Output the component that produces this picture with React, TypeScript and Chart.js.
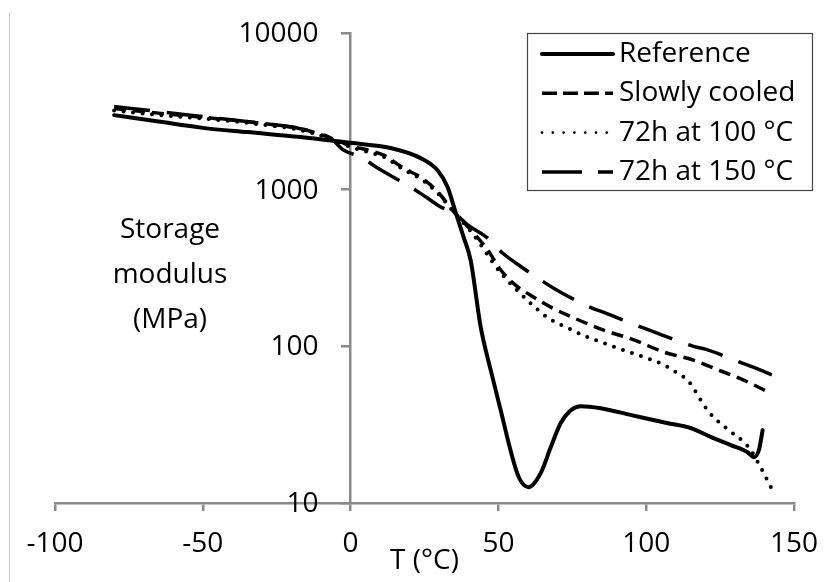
import React, { useEffect, useRef } from 'react';
import { Chart, registerables } from 'chart.js';

Chart.register(...registerables);

// ---- Data ----
const refT = [-80, -65, -50, -35, -17, 0, 13.5, 23.7, 29.4, 32.8, 35.5, 38.2, 40.6, 44.0, 47.4, 50.8, 54.1, 56.9, 60.2, 64.3, 67.7, 71.1, 74.5, 77.8, 84.6, 95, 107, 115, 122, 128.6, 134.3, 136.4, 138.1, 139.4];
const refE = [2990, 2720, 2480, 2330, 2170, 1990, 1845, 1590, 1330, 1040, 720, 500, 355, 133, 70.5, 39, 21.7, 14.6, 12.6, 15.5, 22.7, 32.4, 39.1, 41.5, 40.3, 36.4, 32.4, 30.1, 26.3, 23.4, 21.1, 19.6, 21.7, 29.2];

const slowT = [-80, -65, -46, -30, -17, -5, 0, 5.8, 11.2, 18, 23.7, 29, 35, 41.6, 46.4, 50.8, 56.2, 60.9, 67.7, 75.8, 85.6, 95.8, 105.9, 115.7, 122.8, 133, 142.1];
const slowE = [3300, 3080, 2850, 2650, 2450, 2080, 1900, 1790, 1660, 1370, 1200, 990, 720, 529, 411, 307, 242, 212, 178, 151, 127, 110, 92, 82, 72.6, 60.8, 50.2];

const h100T = [-80, -65, -46, -30, -17, -5, 0, 5.8, 11.2, 18, 23.7, 29, 35, 40, 44, 48, 51.4, 56.9, 61.6, 67, 73.4, 79.5, 85.6, 92.4, 99.1, 105.5, 110.6, 114, 116, 119.5, 122.8, 127.9, 133, 135.4, 138.7, 141.5, 143.1];
const h100E = [3200, 3000, 2800, 2600, 2400, 2050, 1870, 1740, 1620, 1340, 1170, 970, 715, 560, 445, 345, 285, 222, 183, 151, 131, 116, 105, 94.5, 85.4, 77, 67.4, 60.8, 54.1, 42.2, 35.3, 29.2, 24.5, 21.7, 16.9, 13.4, 11.6];

const h150T = [-80, -65, -46, -30, -17, -6.8, -2.4, 3.4, 9, 14.5, 20.3, 25.5, 30.5, 35.2, 39.6, 46.4, 51.4, 57.8, 64.3, 69.7, 80.9, 86.3, 98.1, 103.9, 116, 120, 131.9, 138.7, 144.5];
const h150E = [3400, 3150, 2870, 2650, 2450, 2133, 1791, 1616, 1380, 1202, 1040, 897, 775, 706, 595, 491, 394, 321, 265, 229, 178, 163, 133, 121, 100, 96, 79, 70.5, 63.5];

const seriesLabels = ['Reference', 'Slowly cooled', '72h at 100 °C', '72h at 150 °C'];
const xTicks = [-100, -50, 0, 50, 100, 150];
const yTicks = [10, 100, 1000, 10000];
const xTitle = 'T (°C)';
const yTitleLines = ['Storage', 'modulus', '(MPa)'];

const FONT_FAMILY = '"Open Sans", Lato, sans-serif';
const FONT_SIZE = 28;
const AXIS_COLOR = '#8a8a8a';

const lineWidths = [4, 3.5, 4, 3.5];
const lineDashes = [[], [12, 7], [0, 9.5], [36, 17]];
const lineCaps = ['round', 'butt', 'round', 'butt'];
const legendDashes = [[], [15, 6], [0, 10.8], [40, 16]];
const legendWidths = [4, 3.5, 2.8, 3.5];

const toPts = (xs: number[], ys: number[]) => xs.map((x, i) => ({ x, y: ys[i] }));

const overlayPlugin = {
  id: 'overlayTexts',
  afterDraw(chart: any) {
    const ctx = chart.ctx as CanvasRenderingContext2D;
    const xs = chart.scales.x;
    const ys = chart.scales.y;
    ctx.save();
    ctx.font = `${FONT_SIZE}px ${FONT_FAMILY}`;
    ctx.fillStyle = '#000';

    // y tick labels, left of the axis that crosses at x = 0
    ctx.textAlign = 'right';
    ctx.textBaseline = 'middle';
    const axisX = xs.getPixelForValue(0);
    yTicks.forEach((v) => ctx.fillText(String(v), axisX - 32, ys.getPixelForValue(v) + 1));

    // y title (horizontal, three lines)
    ctx.textAlign = 'center';
    yTitleLines.forEach((t, i) => ctx.fillText(t, 170, 230 + i * 45));

    // legend box
    ctx.strokeStyle = '#444';
    ctx.lineWidth = 1.2;
    ctx.strokeRect(527.5, 33.5, 285, 157);
    chart.data.datasets.forEach((ds: any, i: number) => {
      const y = 54 + i * 39.3;
      ctx.save();
      ctx.strokeStyle = '#000';
      ctx.lineWidth = legendWidths[i];
      ctx.setLineDash(legendDashes[i]);
      ctx.lineCap = lineCaps[i] as CanvasLineCap;
      ctx.beginPath();
      ctx.moveTo(542, y);
      ctx.lineTo(613, y);
      ctx.stroke();
      ctx.restore();
      ctx.textAlign = 'left';
      ctx.fillText(ds.label, 619, y);
    });
    ctx.restore();
  },
};

export default function App() {
  const canvasRef = useRef<HTMLCanvasElement | null>(null);

  useEffect(() => {
    const canvas = canvasRef.current;
    if (!canvas) return;
    const series = [toPts(refT, refE), toPts(slowT, slowE), toPts(h100T, h100E), toPts(h150T, h150E)];
    const font = { family: FONT_FAMILY, size: FONT_SIZE };
    const chart = new Chart(canvas, {
      type: 'line',
      data: {
        datasets: series.map((d, i) => ({
          label: seriesLabels[i],
          data: d,
          borderColor: '#000',
          backgroundColor: '#000',
          borderWidth: lineWidths[i],
          borderDash: lineDashes[i],
          borderCapStyle: lineCaps[i] as any,
          pointRadius: 0,
          cubicInterpolationMode: 'monotone' as const,
          fill: false,
        })),
      },
      options: {
        responsive: false,
        animation: false,
        devicePixelRatio: 1,
        layout: { padding: { left: 55, right: 32, top: 33, bottom: 0 } },
        plugins: { legend: { display: false }, tooltip: { enabled: false }, title: { display: false } },
        scales: {
          x: {
            type: 'linear',
            min: -100,
            max: 150,
            afterBuildTicks: (s: any) => { s.ticks = xTicks.map((v) => ({ value: v })); },
            afterFit: (s: any) => { s.height = 79; s.paddingLeft = 0; s.paddingRight = 0; },
            grid: { display: true, drawOnChartArea: false, drawTicks: true, tickLength: 8, color: AXIS_COLOR, lineWidth: 2.5 },
            border: { display: true, color: AXIS_COLOR, width: 2.5 },
            ticks: { font, color: '#000', padding: 16, maxRotation: 0, autoSkip: false, callback: (v: any) => String(v) },
            title: { display: true, text: xTitle, font, color: '#000', padding: { top: 0, bottom: 4 } },
          },
          y: {
            type: 'logarithmic',
            min: 10,
            max: 10000,
            position: { x: 0 } as any,
            afterBuildTicks: (s: any) => { s.ticks = yTicks.map((v) => ({ value: v })); },
            afterFit: (s: any) => { s.width = 0; s.paddingTop = 0; s.paddingBottom = 0; },
            grid: { display: true, drawOnChartArea: false, drawTicks: true, tickLength: 8, color: AXIS_COLOR, lineWidth: 2.5 },
            border: { display: true, color: AXIS_COLOR, width: 2.5 },
            ticks: { display: false },
          },
        },
      } as any,
      plugins: [overlayPlugin],
    });
    return () => chart.destroy();
  }, []);

  return (
    <>
      <div style={{ position: 'fixed', left: 9, top: 13, width: 0, height: 569, borderLeft: '1px solid #c8c8c8' }} />
      <canvas
        ref={canvasRef}
        width={826}
        height={582}
        style={{ position: 'fixed', left: 0, top: 0, width: 826, height: 582 }}
      />
    </>
  );
}
